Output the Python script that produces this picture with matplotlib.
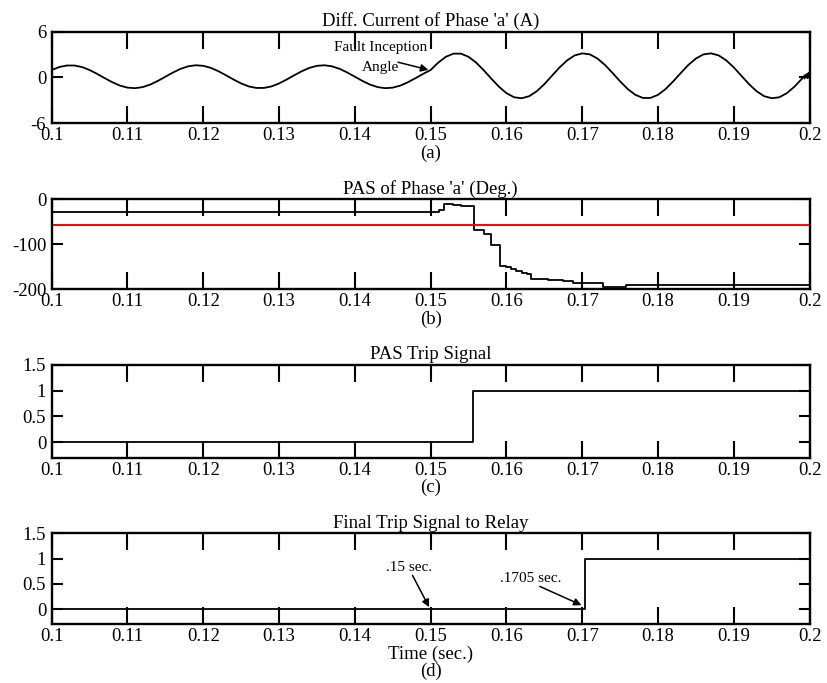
import numpy as np
import matplotlib
matplotlib.use("Agg")
import matplotlib.pyplot as plt

plt.rcParams['font.family'] = ['Liberation Serif', 'DejaVu Serif']
plt.rcParams['mathtext.fontset'] = 'stix'

# time axis and tick labels
xticks = [0.1, 0.11, 0.12, 0.13, 0.14, 0.15, 0.16, 0.17, 0.18, 0.19, 0.2]
xtick_labels = ['0.1', '0.11', '0.12', '0.13', '0.14', '0.15', '0.16', '0.17', '0.18', '0.19', '0.2']

# (a) differential current, sampled every 1 ms from 0.100 to 0.200 s
t_cur = np.round(0.1 + 0.001 * np.arange(101), 3)
i_diff = [
    0.98, 1.37, 1.57, 1.57, 1.37, 0.98, 0.47, -0.09, -0.62, -1.06,
    -1.33, -1.40, -1.26, -0.93, -0.45, 0.10, 0.65, 1.13, 1.46, 1.60,
    1.53, 1.26, 0.82, 0.29, -0.27, -0.78, -1.17, -1.37, -1.37, -1.17,
    -0.78, -0.27, 0.29, 0.82, 1.26, 1.53, 1.60, 1.46, 1.13, 0.65,
    0.10, -0.45, -0.93, -1.26, -1.40, -1.33, -1.06, -0.62, -0.09, 0.47,
    0.98, 1.95, 2.71, 3.12, 3.12, 2.71, 1.95, 0.95, -0.15, -1.20,
    -2.05, -2.59, -2.72, -2.45, -1.80, -0.87, 0.22, 1.31, 2.24, 2.89,
    3.16, 3.03, 2.49, 1.64, 0.59, -0.51, -1.51, -2.27, -2.68, -2.68,
    -2.27, -1.51, -0.51, 0.59, 1.64, 2.49, 3.03, 3.16, 2.89, 2.24,
    1.31, 0.22, -0.87, -1.80, -2.45, -2.72, -2.59, -2.05, -1.20, -0.15,
    0.70,
]

# (b) PAS of phase a (step changes)
pas_t = [0.100, 0.1511, 0.1518, 0.1529, 0.1540, 0.1557, 0.1570, 0.1580, 0.1592,
         0.1600, 0.1606, 0.1613, 0.1620, 0.1627, 0.1633, 0.1655, 0.1675, 0.1688,
         0.1727, 0.1758, 0.200]
pas_v = [-28, -23, -10, -12, -14, -69, -76, -102, -148,
         -151, -155, -159, -163, -166, -178, -180, -182, -187,
         -195, -191, -191]
pas_threshold = -57

# (c) PAS trip signal and (d) final trip signal
pas_trip_t = [0.100, 0.1556, 0.200]
pas_trip_v = [0, 1, 1]
final_trip_t = [0.100, 0.1703, 0.200]
final_trip_v = [0, 1, 1]

fig = plt.figure(figsize=(8.27, 6.83), dpi=100)
L, W = 0.0625, 0.9165
ax_a = fig.add_axes([L, 0.8195, W, 0.1341])
ax_b = fig.add_axes([L, 0.5764, W, 0.1318])
ax_c = fig.add_axes([L, 0.3299, W, 0.1357])
ax_d = fig.add_axes([L, 0.0859, W, 0.1332])

FS = 13.5
lw = 1.3


def style(ax, title, xlabel):
    ax.set_xlim(0.1, 0.2)
    ax.set_xticks(xticks)
    ax.set_xticklabels(xtick_labels)
    ax.tick_params(axis='x', direction='in', length=12, width=1.5, top=True,
                   labelsize=FS, pad=3)
    ax.tick_params(axis='y', direction='in', length=8, width=1.5, right=True,
                   labelsize=FS, pad=4)
    for s in ax.spines.values():
        s.set_linewidth(1.7)
    ax.set_title(title, fontsize=FS, pad=4)
    ax.set_xlabel(xlabel, fontsize=FS, labelpad=0, linespacing=1.0)


# (a)
ax_a.plot(t_cur, i_diff, color='black', lw=lw)
ax_a.set_ylim(-6, 6)
ax_a.set_yticks([-6, 0, 6])
ax_a.set_yticklabels(['-6', '0', '6'])
style(ax_a, "Diff. Current of Phase 'a' (A)", '(a)')
ax_a.text(0.1434, 2.6, 'Fault Inception\nAngle', fontsize=11, ha='center',
          va='center', multialignment='center', linespacing=1.7)
ax_a.annotate('', xy=(0.1497, 1.0), xytext=(0.1457, 2.0),
              arrowprops=dict(arrowstyle='-|>', color='black', lw=1.1,
                              mutation_scale=11, shrinkA=0, shrinkB=0))
ax_a.annotate('', xy=(0.2, 0.7), xytext=(0.1993, -0.2),
              arrowprops=dict(arrowstyle='-|>', color='black', lw=0.8,
                              mutation_scale=9, shrinkA=0, shrinkB=0))

# (b)
ax_b.plot(pas_t, pas_v, color='black', lw=lw, drawstyle='steps-post')
ax_b.axhline(pas_threshold, color='red', lw=1.4)
ax_b.set_ylim(-200, 0)
ax_b.set_yticks([-200, -100, 0])
ax_b.set_yticklabels(['-200', '-100', '0'])
style(ax_b, "PAS of Phase 'a' (Deg.)", '(b)')

# (c)
ax_c.plot(pas_trip_t, pas_trip_v, color='black', lw=lw, drawstyle='steps-post')
ax_c.set_ylim(-0.3, 1.5)
ax_c.set_yticks([0, 0.5, 1, 1.5])
ax_c.set_yticklabels(['0', '0.5', '1', '1.5'])
style(ax_c, 'PAS Trip Signal', '(c)')

# (d)
ax_d.plot(final_trip_t, final_trip_v, color='black', lw=lw, drawstyle='steps-post')
ax_d.set_ylim(-0.3, 1.5)
ax_d.set_yticks([0, 0.5, 1, 1.5])
ax_d.set_yticklabels(['0', '0.5', '1', '1.5'])
style(ax_d, 'Final Trip Signal to Relay', 'Time (sec.)\n(d)')
ax_d.text(0.1471, 0.83, '.15 sec.', fontsize=11, ha='center', va='center')
ax_d.annotate('', xy=(0.1498, 0.04), xytext=(0.1476, 0.67),
              arrowprops=dict(arrowstyle='-|>', color='black', lw=1.1,
                              mutation_scale=11, shrinkA=0, shrinkB=0))
ax_d.text(0.1632, 0.61, '.1705 sec.', fontsize=11, ha='center', va='center')
ax_d.annotate('', xy=(0.1699, 0.08), xytext=(0.1644, 0.45),
              arrowprops=dict(arrowstyle='-|>', color='black', lw=1.1,
                              mutation_scale=11, shrinkA=0, shrinkB=0))

fig.savefig('out.png', dpi=100)
